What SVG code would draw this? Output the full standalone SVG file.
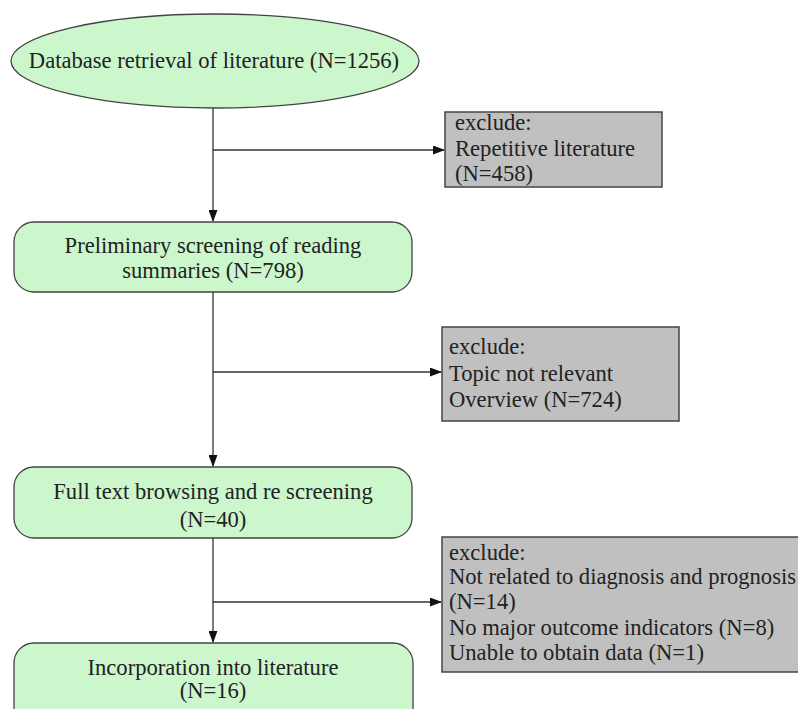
<svg xmlns="http://www.w3.org/2000/svg" width="798" height="709" viewBox="0 0 798 709">
<style>
.t{font-family:"Liberation Serif","Times New Roman",serif;font-size:22.6px;fill:#222}
.g{fill:#ccf7cc;stroke:#444;stroke-width:1.3}
.x{fill:#c0c0c0;stroke:#444;stroke-width:1.5}
.c{stroke:#333;stroke-width:1.3;fill:none}
</style>
<defs>
<marker id="ah" markerWidth="12" markerHeight="9" refX="11" refY="4.5" orient="auto" markerUnits="userSpaceOnUse">
<path d="M0,0 L12,4.5 L0,9 Z" fill="#111"/>
</marker>
</defs>
<rect width="798" height="709" fill="#fff"/>
<g id="connectors">
<line class="c" x1="213" y1="108" x2="213" y2="221" marker-end="url(#ah)"/>
<line class="c" x1="213" y1="150" x2="444" y2="150" marker-end="url(#ah)"/>
<line class="c" x1="213" y1="292" x2="213" y2="466" marker-end="url(#ah)"/>
<line class="c" x1="213" y1="372" x2="441" y2="372" marker-end="url(#ah)"/>
<line class="c" x1="213" y1="538" x2="213" y2="642" marker-end="url(#ah)"/>
<line class="c" x1="213" y1="602" x2="441" y2="602" marker-end="url(#ah)"/>
</g>
<g id="n1">
<ellipse class="g" cx="215" cy="61" rx="204" ry="47"/>
<text class="t" x="214" y="68" text-anchor="middle">Database retrieval of literature (N=1256)</text>
</g>
<g id="x1">
<rect class="x" x="445" y="112" width="217" height="75"/>
<text class="t" x="455" y="130">exclude:</text>
<text class="t" x="455" y="156">Repetitive literature</text>
<text class="t" x="455" y="181">(N=458)</text>
</g>
<g id="n2">
<rect class="g" x="14" y="222" width="398" height="70" rx="20"/>
<text class="t" x="213" y="253" text-anchor="middle">Preliminary screening of reading</text>
<text class="t" x="213" y="278" text-anchor="middle">summaries (N=798)</text>
</g>
<g id="x2">
<rect class="x" x="442" y="327" width="237" height="94"/>
<text class="t" x="449" y="354">exclude:</text>
<text class="t" x="449" y="381">Topic not relevant</text>
<text class="t" x="449" y="407">Overview (N=724)</text>
</g>
<g id="n3">
<rect class="g" x="14" y="467" width="398" height="71" rx="20"/>
<text class="t" x="213" y="499" text-anchor="middle">Full text browsing and re screening</text>
<text class="t" x="213" y="527" text-anchor="middle">(N=40)</text>
</g>
<g id="x3">
<rect class="x" x="442" y="537" width="370" height="135"/>
<text class="t" x="449" y="560">exclude:</text>
<text class="t" x="449" y="584">Not related to diagnosis and prognosis</text>
<text class="t" x="449" y="609">(N=14)</text>
<text class="t" x="449" y="635">No major outcome indicators (N=8)</text>
<text class="t" x="449" y="660">Unable to obtain data (N=1)</text>
</g>
<g id="n4">
<rect class="g" x="14" y="643" width="399" height="90" rx="20"/>
<text class="t" x="213" y="675" text-anchor="middle">Incorporation into literature</text>
<text class="t" x="213" y="698" text-anchor="middle">(N=16)</text>
</g>
</svg>
